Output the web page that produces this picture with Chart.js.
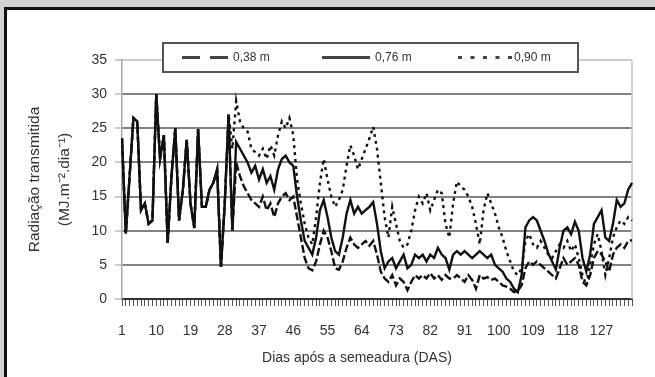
<!DOCTYPE html>
<html lang="pt-BR">
<head>
<meta charset="utf-8">
<title>Radiação transmitida</title>
<script src="https://cdn.jsdelivr.net/npm/chart.js@4.4.1/dist/chart.umd.min.js"></script>
<style>
  html, body { margin: 0; padding: 0; overflow: hidden; }
  body { width: 655px; height: 377px; background: #d2d2d2; position: relative; }
  #moldura { position: absolute; left: 4px; top: 7px; right: -10px; bottom: -10px; background: #fff; border-top: 3px solid #111; border-left: 3px solid #111; }
  #grafico { position: absolute; left: 0; top: 0; }
</style>
</head>
<body>
<div id="moldura"></div>
<canvas id="grafico" width="655" height="377"></canvas>
<script>
// Radiação transmitida ao longo do ciclo, por espaçamento entre fileiras

const dias = Array.from({ length: 135 }, (_, i) => i + 1);
const rotulosX = [1, 10, 19, 28, 37, 46, 55, 64, 73, 82, 91, 100, 109, 118, 127];
const tituloX = 'Dias após a semeadura (DAS)';

const radiacao038 = [
    23.5, 9.6, 18, 26.5, 26, 13, 14, 11, 11.5, 30,
    20.5, 24, 8.2, 18, 25, 11.5, 16, 23.3, 14, 10.4,
    24.9, 13.5, 13.5, 16, 17, 19, 4.7, 14, 27, 10,
    20, 18, 16.5, 15.5, 14.5, 14, 13.5, 15, 13, 14,
    12, 14, 15, 15.5, 14.5, 15, 12, 9, 6, 4.5,
    4.2, 5.5, 8, 10, 9, 7, 4.5, 4.3, 5.5, 7.5,
    9, 8, 7.5, 8, 8.5, 7.8, 8.5, 6.5, 4, 3,
    2.5, 3.5, 2, 3, 2.5, 1.3, 2.5, 3.5, 3, 3.5,
    3, 3.8, 3, 3.5, 2.8, 3.5, 3, 3, 3.5, 3,
    2.5, 3.5, 2.8, 1.5, 3.5, 3, 3.2, 2.8, 3, 2.5,
    2, 1.8, 1.5, 1, 1.2, 2, 4.5, 5.5, 5, 5.5,
    5, 4.5, 4, 3.5, 3, 4.5, 6, 5, 5.5, 6,
    5, 2.5, 2, 3.5, 6, 7, 6.5, 5.5, 4, 6.5,
    7.5, 8, 7.5, 8.5, 8.6
];

const radiacao076 = [
    23.5, 9.6, 18, 26.5, 26, 13, 14, 11, 11.5, 30,
    20.5, 24, 8.2, 18, 25, 11.5, 16, 23.3, 14, 10.4,
    24.9, 13.5, 13.5, 16, 17, 19, 4.7, 14, 27, 10,
    23, 22, 21, 20, 18.5, 19.5, 17.5, 19, 17, 18,
    16, 19, 20.5, 21, 20, 19.5, 15, 11.5, 8.5, 7.5,
    6.5, 9, 13, 14.5, 12, 9, 7, 6.5, 9, 12.5,
    14.5, 12.5, 13.5, 12.5, 13, 13.5, 14.2, 11, 7, 4.5,
    5.5, 6, 4.5, 5.5, 6.5, 4.5, 5, 6.5, 6, 6.5,
    5.5, 6.5, 6, 7.5, 6.5, 6, 4.3, 6.5, 7, 6.5,
    7, 6.5, 6, 6.5, 7, 6.5, 6, 6.5, 5, 4.5,
    4, 3, 2.5, 1.5, 1, 3.5, 10.5, 11.5, 12, 11.5,
    10, 8.5, 6.7, 5.5, 4.3, 7.5, 10, 10.5, 9.5, 11.3,
    10, 6, 4, 6.5, 11, 12, 13, 9, 8.5, 11,
    14.5, 13.5, 14, 16, 17
];

const radiacao090 = [
    23.5, 9.6, 18, 26.5, 26, 13, 14, 11, 11.5, 30,
    20.5, 24, 8.2, 18, 25, 11.5, 16, 23.3, 14, 10.4,
    24.9, 13.5, 13.5, 16, 17, 19, 4.7, 14, 27, 22,
    29, 26, 25, 24.5, 22, 21.5, 21, 22, 20.5, 22.5,
    21, 24, 26, 25, 26.5, 24, 17.5, 14, 11, 9,
    8, 12, 17, 20.5, 17.5, 15, 13.5, 14.5, 16, 19.5,
    22.5, 21, 19, 20.5, 22, 23.5, 25.2, 22, 17, 12,
    9, 13.5, 11, 8.5, 7.5, 8, 10, 13, 15, 14,
    15.5, 13, 14.5, 16, 15.5, 11, 9, 14, 17.2, 16.5,
    16, 15, 13.5, 11, 8, 13, 15.5, 14, 12.5, 10.5,
    9, 7, 5.5, 4, 3.5, 4.5, 8.5, 9.5, 8, 7.5,
    8.5, 7.5, 6.5, 6, 7, 8, 7.5, 8.5, 7, 8,
    6, 3.5, 2, 5, 8, 9.5, 7, 3.5, 6, 9,
    10.5, 11.5, 11, 12, 11.5
];

const fonte = "'Liberation Sans', Arial, sans-serif";

// Legenda em caixa por cima do topo da área, borda direita clara e título do eixo X
const decoracao = {
    id: 'decoracao',
    beforeDatasetsDraw(chart) {
        const ctx = chart.ctx;
        const area = chart.chartArea;
        ctx.save();
        ctx.strokeStyle = '#c4c4c4';
        ctx.lineWidth = 1.5;
        ctx.beginPath();
        ctx.moveTo(area.right, area.top);
        ctx.lineTo(area.right, area.bottom);
        ctx.stroke();
        ctx.restore();
    },
    afterDraw(chart) {
        const ctx = chart.ctx;
        const area = chart.chartArea;
        const x0 = area.left + 41;
        const y0 = area.top - 17;
        const yMeio = y0 + 14.5;

        ctx.save();

        // título do eixo X, um pouco à esquerda do centro como no original
        ctx.fillStyle = '#333';
        ctx.font = '14px ' + fonte;
        ctx.textAlign = 'center';
        ctx.textBaseline = 'middle';
        ctx.fillText(tituloX, area.left + 235, 358);

        ctx.fillStyle = '#fff';
        ctx.fillRect(x0, y0, 415, 29);
        ctx.strokeStyle = '#555';
        ctx.lineWidth = 2;
        ctx.strokeRect(x0, y0, 415, 29);

        // posição de cada item dentro da caixa: [início da linha, fim da linha, texto]
        const itens = [[19, 65, 70], [159, 207, 212], [295, 349, 351]];
        chart.data.datasets.forEach((ds, i) => {
            const [a, b, t] = itens[i];
            ctx.strokeStyle = '#444';
            ctx.lineWidth = 3;
            ctx.setLineDash(ds.tracoLegenda || []);
            ctx.beginPath();
            ctx.moveTo(x0 + a, yMeio);
            ctx.lineTo(x0 + b, yMeio);
            ctx.stroke();
            ctx.setLineDash([]);
            ctx.fillStyle = '#333';
            ctx.font = '12px ' + fonte;
            ctx.textAlign = 'left';
            ctx.fillText(ds.label, x0 + t, yMeio);
        });
        ctx.restore();
    }
};

new Chart(document.getElementById('grafico'), {
    type: 'line',
    data: {
        labels: dias,
        datasets: [
            {
                label: '0,38 m',
                data: radiacao038,
                borderColor: '#111',
                borderWidth: 2.4,
                borderDash: [8, 3],
                tracoLegenda: [18, 10]
            },
            {
                label: '0,76 m',
                data: radiacao076,
                borderColor: '#111',
                borderWidth: 2.4,
                tracoLegenda: []
            },
            {
                label: '0,90 m',
                data: radiacao090,
                borderColor: '#111',
                borderWidth: 2.4,
                borderDash: [3, 4],
                tracoLegenda: [4, 8.5]
            }
        ]
    },
    options: {
        responsive: false,
        animation: false,
        elements: {
            point: { radius: 0 },
            line: { tension: 0 }
        },
        layout: {
            padding: { top: 60, right: 23, bottom: 0, left: 0 }
        },
        plugins: {
            legend: { display: false },
            tooltip: { enabled: false }
        },
        scales: {
            x: {
                type: 'category',
                offset: false,
                afterFit(escala) { escala.height = 78; },
                grid: {
                    display: true,
                    drawOnChartArea: false,
                    drawTicks: true,
                    tickLength: 7,
                    color: '#555',
                    lineWidth: 1
                },
                border: { display: true, color: '#333', width: 2 },
                ticks: {
                    autoSkip: false,
                    maxRotation: 0,
                    minRotation: 0,
                    padding: 17,
                    color: '#333',
                    font: { family: fonte, size: 14 },
                    callback(valor, indice) {
                        const d = dias[indice];
                        return rotulosX.includes(d) ? String(d) : '';
                    }
                },
                title: { display: false }
            },
            y: {
                min: 0,
                max: 35,
                afterFit(escala) { escala.width = 122; },
                grid: {
                    color: ctx => ctx.tick.value === 35 ? '#cccccc' : '#828282',
                    lineWidth: 2,
                    drawTicks: true,
                    tickLength: 7,
                    tickColor: '#999',
                    tickWidth: 1
                },
                border: { display: true, color: '#a8a8a8', width: 1.5 },
                ticks: {
                    stepSize: 5,
                    padding: 8,
                    color: '#333',
                    font: { family: fonte, size: 14 }
                },
                title: {
                    display: true,
                    text: ['Radiação transmitida', '(MJ.m⁻².dia⁻¹)'],
                    color: '#333',
                    font: { family: fonte, size: 15.5, lineHeight: 1.94 },
                    padding: { top: 20, bottom: 0 }
                }
            }
        }
    },
    plugins: [decoracao]
});
</script>
</body>
</html>
